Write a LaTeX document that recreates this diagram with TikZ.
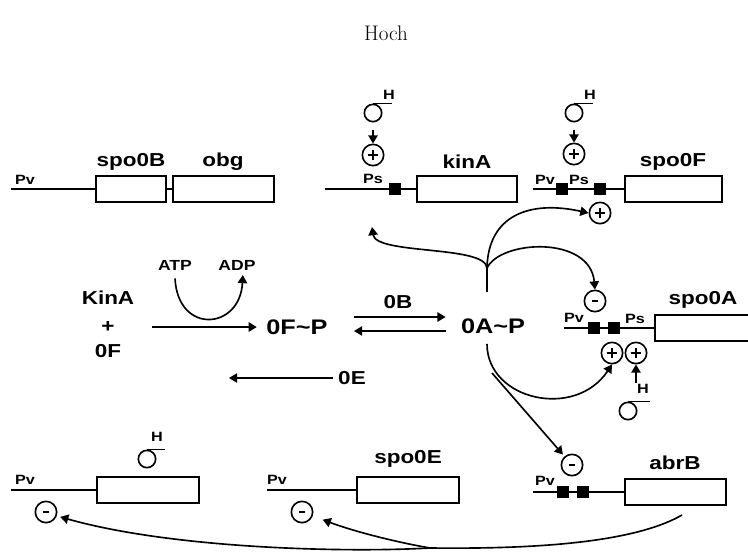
\documentclass[tikz,border=0pt]{standalone}
\usepackage{fontspec}
\setsansfont{Liberation Sans}[FakeStretch=1.2]
\usetikzlibrary{arrows.meta, positioning, calc}

\begin{document}
\begin{tikzpicture}[
  x=0.03cm, y=-0.03cm,
  >={Triangle[length=7pt, width=8pt]},
  dna/.style={line width=1.3pt},
  arr/.style={->, line width=1.4pt},
  genebox/.style={draw, line width=1.6pt, minimum height=0.8cm, inner sep=0pt},
  sitebox/.style={fill, minimum size=0.36cm, inner sep=0pt},
  lab/.style={font=\sffamily\bfseries\fontsize{16}{18}\selectfont, inner sep=1pt},
  biglab/.style={font=\sffamily\bfseries\fontsize{18}{20}\selectfont, inner sep=1pt},
  med/.style={font=\sffamily\bfseries\fontsize{12.5}{14}\selectfont, inner sep=1pt},
  small/.style={font=\sffamily\bfseries\fontsize{11.5}{13}\selectfont, inner sep=1pt},
  plusc/.style={circle, draw, line width=1.4pt, minimum size=0.64cm, inner sep=0pt,
    path picture={\draw[line width=1.5pt]
      ([xshift=-4.5pt]path picture bounding box.center) -- ([xshift=4.5pt]path picture bounding box.center)
      ([yshift=-4.5pt]path picture bounding box.center) -- ([yshift=4.5pt]path picture bounding box.center);}},
  minusc/.style={circle, draw, line width=1.4pt, minimum size=0.64cm, inner sep=0pt,
    path picture={\draw[line width=2.4pt]
      ([xshift=-2.4pt]path picture bounding box.center) -- ([xshift=2.4pt]path picture bounding box.center);}},
  sigmac/.style={circle, draw, line width=1.4pt, minimum size=0.52cm, inner sep=0pt},
]

\useasboundingbox (0,0) rectangle (748,552);
\clip (0,0) rectangle (748,552);

% Title
\node[font=\fontsize{18}{20}\selectfont] (title) at (386,33) {Hoch};

% =============================================
% spo0B - obg operon
% =============================================
\node[genebox, minimum width=2.1cm] (spoB) at (131,189) {};
\node[genebox, minimum width=3.03cm] (obg) at (223.5,189) {};
\coordinate (pvB) at (11,189);
\draw[dna] (pvB) -- (spoB.west);
\draw[dna] (spoB.east) -- (obg.west);
\node[small] (pvBl) at (25,180) {Pv};
\node[lab] (tspoB) at (131,162) {spo0B};
\node[lab] (tobg) at (223,162) {obg};

% =============================================
% kinA
% =============================================
\node[genebox, minimum width=3cm] (kinA) at (467,189) {};
\coordinate (pvK) at (325,189);
\draw[dna] (pvK) -- (kinA.west);
\node[sitebox] (sK) at (395,189) {};
\node[small] (psK) at (373,179) {Ps};
\node[lab] (tkinA) at (467,162) {kinA};
\node[plusc] (pK) at (373,155) {};
\node[sigmac] (sgK) at (373,113) {};
\draw[line width=1.4pt] (sgK.north) -- ++(19,0);
\node[small] (hK) at (389,95) {H};
\draw[arr, shorten <=6pt] (sgK) -- (pK);

% =============================================
% spo0F
% =============================================
\node[genebox, minimum width=2.91cm] (spoF) at (673.5,189) {};
\coordinate (pvF) at (533,189);
\draw[dna] (pvF) -- (spoF.west);
\node[sitebox] (sF1) at (562,189) {};
\node[sitebox] (sF2) at (600,189) {};
\node[small] (pvFl) at (545,180) {Pv};
\node[small] (psFl) at (579,180) {Ps};
\node[lab] (tspoF) at (673,162) {spo0F};
\node[plusc] (pF) at (574,154) {};
\node[sigmac] (sgF) at (574,113) {};
\draw[line width=1.4pt] (sgF.north) -- ++(19,0);
\node[small] (hF) at (590,95) {H};
\draw[arr, shorten <=6pt] (sgF) -- (pF);
\node[plusc] (pF2) at (600,213) {};

% =============================================
% Phosphorelay
% =============================================
\node[lab] (kin) at (108,298) {KinA};
\node[lab] (plus) at (108,327) {+};
\node[lab] (zf) at (108,351) {0F};
\node[biglab] (fp) at (297,327) {0F\textasciitilde P};
\node[biglab] (ap) at (493,326) {0A\textasciitilde P};
\draw[arr, shorten >=7pt] ($(plus.east)+(36,0)$) -- (fp.west);

\node[med] (atp) at (175,265) {ATP};
\node[med] (adp) at (237,265) {ADP};
\draw[arr] ([yshift=-6pt]atp.south) .. controls (178,335) and (240,330) .. ([xshift=5pt, yshift=-3pt]adp.south);

\node[lab] (ob) at (398,302) {0B};
\draw[arr] ($(fp.east)+(25,-10)$) -- ($(ap.west)+(-14,-9)$);
\draw[arr] ($(ap.west)+(-14,5)$) -- ($(fp.east)+(25,4)$);

\node[lab] (oe) at (352,378) {0E};
\coordinate (oeEnd) at (229,378);
\draw[arr, shorten <=3pt] (oe.west) -- (oeEnd);

% =============================================
% spo0A
% =============================================
\node[genebox, minimum width=3cm] (spoA) at (705,328) {};
\coordinate (pvA) at (564,328);
\draw[dna] (pvA) -- (spoA.west);
\node[sitebox] (sA1) at (594,328) {};
\node[sitebox] (sA2) at (614,328) {};
\node[small] (pvAl) at (574,318) {Pv};
\node[small] (psAl) at (635,319) {Ps};
\node[lab] (tspoA) at (703,300) {spo0A};
\node[minusc] (mA) at (595,301) {};
\node[plusc] (pA1) at (612,353) {};
\node[plusc] (pA2) at (636,353) {};
\node[sigmac] (sgA) at (628,411) {};
\draw[line width=1.4pt] (sgA.north) -- ++(22,0);
\node[small] (hA) at (643,389) {H};
\draw[arr] (hA.north -| pA2.south) -- (pA2.south);

% =============================================
% 0A~P regulation
% =============================================
\coordinate (apT) at ($(ap.north)+(-6,-25)$);
\coordinate (brT) at ($(apT)+(0,-24)$);
\coordinate (kinReg) at (372,227);
\draw[line width=1.4pt] (apT) -- (brT);
\draw[arr] (brT) .. controls (486,245) and (376,255) .. (kinReg);
\draw[arr] (brT) .. controls (488,215) and (530,200) .. (pF2.west);
\draw[arr] (brT) .. controls (500,240) and (590,235) .. (mA.north);

\coordinate (apB) at ($(ap.south)+(-6,9)$);
\coordinate (brB) at (492,373);
\draw[arr] (apB) .. controls (487,400) and (575,420) .. (pA1.south);

% =============================================
% Bottom genes
% =============================================
\node[genebox, minimum width=3.06cm] (gL) at (148,490) {};
\coordinate (pvL) at (11,490);
\draw[dna] (pvL) -- (gL.west);
\node[small] (pvLl) at (25,480) {Pv};
\node[minusc] (mL) at (46,512) {};
\node[sigmac] (sgL) at (147,459) {};
\draw[line width=1.4pt] (sgL.north) -- ++(18,0);
\node[small] (hL) at (157,437) {H};

\node[genebox, minimum width=3.06cm] (spoE) at (408,490) {};
\coordinate (pvE) at (267,490);
\draw[dna] (pvE) -- (spoE.west);
\node[small] (pvEl) at (277,480) {Pv};
\node[minusc] (mE) at (302,512) {};
\node[lab] (tspoE) at (408,459) {spo0E};

\node[genebox, minimum width=3.03cm] (abrB) at (675.5,492) {};
\coordinate (pvR) at (533,492);
\draw[dna] (pvR) -- (abrB.west);
\node[sitebox] (sR1) at (563,492) {};
\node[sitebox] (sR2) at (583,492) {};
\node[small] (pvRl) at (545,481) {Pv};
\node[minusc] (mB) at (572,465) {};
\node[lab] (tabrB) at (675,463) {abrB};
\draw[arr, shorten >=2pt] (brB) -- (mB);

% AbrB repression
\coordinate (abrOut) at (682,515);
\coordinate (jn) at (430,548);
\draw[line width=1.4pt] (abrOut) .. controls (630,545) and (520,549) .. (jn);
\draw[arr, shorten >=3pt] (jn) .. controls (340,553) and (170,548) .. (mL.-20);
\draw[arr, shorten >=9pt] (jn) .. controls (390,541) and (350,530) .. (mE.-20);

\end{tikzpicture}
\end{document}
